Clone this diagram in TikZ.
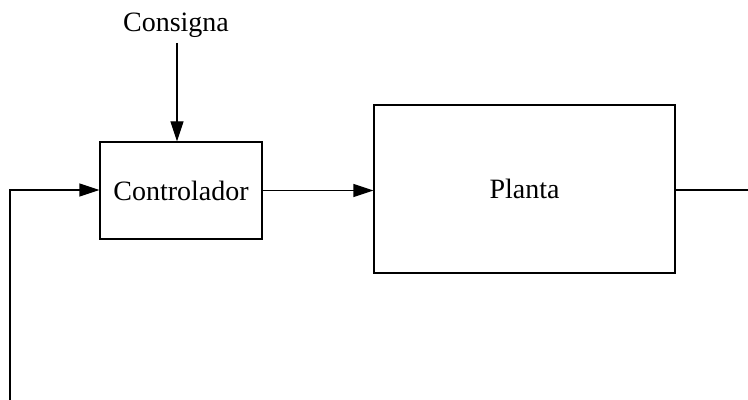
\documentclass[tikz,border=0pt]{standalone}
\usepackage{fontspec}
\setmainfont{Liberation Serif}
\usetikzlibrary{arrows.meta}
\begin{document}
\begin{tikzpicture}[x=0.5pt,y=-0.5pt,line width=0.65pt,
    >={Triangle[length=10pt,width=6.5pt]},
    bloque/.style={draw,rectangle,inner sep=0pt},
    every node/.style={font=\fontsize{14}{16}\selectfont}]
    \useasboundingbox (0,0) rectangle (748,400);
    %bloques
    \node at (176,25) (consigna) {Consigna};
    \node[bloque,minimum width=81pt,minimum height=48.5pt] at (181,190.5) (ctrl) {Controlador};
    \node[bloque,minimum width=150.5pt,minimum height=84pt] at (524.5,189) (planta) {Planta};
    %puntos
    \coordinate (inicio) at (177,43);
    \coordinate (salida) at (748,190);
    \coordinate (retro) at (10,400);
    \coordinate (esquina) at (10,190);
    %%%% FLECHAS
    \draw [->] (inicio) -- (inicio |- ctrl.north);
    \draw [->] (ctrl.east) -- (planta.west |- ctrl.east);
    \draw [] (planta.east |- salida) -- (salida);
    \draw [->] (retro) -- (esquina) -- (ctrl.west |- esquina);
\end{tikzpicture}
\end{document}
